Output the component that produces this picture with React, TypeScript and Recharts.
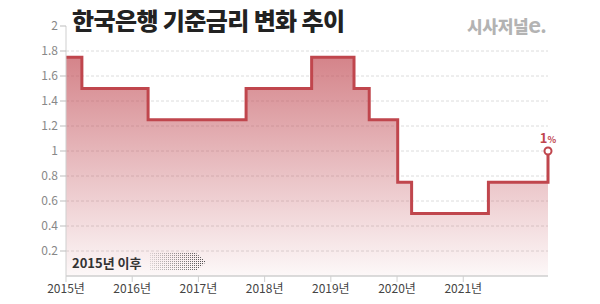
import React from 'react';
import {
  ComposedChart,
  Area,
  XAxis,
  YAxis,
  CartesianGrid,
} from 'recharts';

const yearsSince2015 = [0, 0.24, 1.24, 2.72, 3.71, 4.35, 4.58, 5.01, 5.22, 6.38, 7.28];
const baseRate = [1.75, 1.5, 1.25, 1.5, 1.75, 1.5, 1.25, 0.75, 0.5, 0.75, 1.0];

const yearTicks = [0, 1, 2, 3, 4, 5, 6];
const yearLabels = ['2015년', '2016년', '2017년', '2018년', '2019년', '2020년', '2021년'];
const rateTicks = [0.2, 0.4, 0.6, 0.8, 1, 1.2, 1.4, 1.6, 1.8, 2];
const gridValues = [0.2, 0.4, 0.6, 0.8, 1, 1.2, 1.4, 1.6, 1.8];

const data = yearsSince2015.map((x, i) => ({ x, rate: baseRate[i] }));

const RED = '#c0464d';
const FONT = '"Noto Sans CJK KR", "Noto Sans", sans-serif';

function EndDot(props: Record<string, unknown>) {
  const { cx, cy, index } = props as { cx: number; cy: number; index: number };
  if (index !== data.length - 1) return <g key={index} />;
  return (
    <g key={index}>
      <circle cx={cx} cy={cy} r={3.5} fill="white" stroke={RED} strokeWidth={2} />
      <text x={cx} y={cy - 8} textAnchor="middle" fill={RED} fontFamily={FONT} fontWeight={700}>
        <tspan fontSize={13}>1</tspan>
        <tspan fontSize={9}>%</tspan>
      </text>
    </g>
  );
}

function SinceArrow() {
  return (
    <svg width={60} height={22} style={{ position: 'absolute', left: 148, top: 251 }}>
      <defs>
        <pattern id="dots" width={2} height={2} patternUnits="userSpaceOnUse">
          <rect width={1} height={1} fill="#444" />
        </pattern>
        <linearGradient id="fadeIn" x1="0" y1="0" x2="1" y2="0">
          <stop offset="0%" stopColor="white" stopOpacity={0.15} />
          <stop offset="100%" stopColor="white" stopOpacity={1} />
        </linearGradient>
        <mask id="arrowMask">
          <rect width={60} height={22} fill="url(#fadeIn)" />
        </mask>
      </defs>
      <polygon
        points="2,2 48,2 58,11 48,20 2,20"
        fill="url(#dots)"
        mask="url(#arrowMask)"
      />
    </svg>
  );
}

export default function App() {
  return (
    <div style={{ position: 'relative', width: 600, height: 304, background: '#fff', fontFamily: FONT }}>
      <style>{`body{margin:0}`}</style>
      <ComposedChart
        width={600}
        height={304}
        data={data}
        margin={{ top: 26, right: 52, bottom: 0, left: 0 }}
      >
        <defs>
          <linearGradient id="rateFill" x1="0" y1="0" x2="0" y2="1">
            <stop offset="0%" stopColor="#c24f58" stopOpacity={0.7} />
            <stop offset="100%" stopColor="#c24f58" stopOpacity={0.04} />
          </linearGradient>
        </defs>
        <CartesianGrid
          vertical={false}
          horizontalValues={gridValues}
          stroke="#dcdcdc"
          strokeDasharray="3 2"
        />
        <XAxis
          type="number"
          dataKey="x"
          domain={[0, 7.28]}
          ticks={yearTicks}
          tickFormatter={(t: number) => yearLabels[t] ?? ''}
          tick={{ fontSize: 12, fill: '#444', fontFamily: FONT }}
          axisLine={{ stroke: '#cfcfcf', strokeWidth: 1.5 }}
          tickLine={{ stroke: '#cfcfcf' }}
          tickSize={6}
          height={28}
        />
        <YAxis
          type="number"
          domain={[0, 2]}
          ticks={rateTicks}
          tickFormatter={(v: number) => String(v)}
          tick={{ fontSize: 12, fill: '#888', fontFamily: FONT }}
          axisLine={{ stroke: '#cfcfcf' }}
          tickLine={{ stroke: '#bdbdbd' }}
          tickSize={6}
          width={66}
        />
        <Area
          type="stepAfter"
          dataKey="rate"
          stroke={RED}
          strokeWidth={3}
          fill="url(#rateFill)"
          fillOpacity={1}
          dot={EndDot}
          activeDot={false}
          isAnimationActive={false}
        />
      </ComposedChart>

      <div
        style={{
          position: 'absolute',
          left: 72,
          top: 2,
          fontSize: 24,
          fontWeight: 900,
          color: '#222',
          letterSpacing: -0.6,
          whiteSpace: 'nowrap',
        }}
      >
        한국은행 기준금리 변화 추이
      </div>
      <div
        style={{
          position: 'absolute',
          left: 467,
          top: 10,
          fontSize: 17,
          fontWeight: 900,
          color: '#b3b3b3',
          letterSpacing: -0.3,
          whiteSpace: 'nowrap',
        }}
      >
        시사저널<span style={{ fontSize: 23, fontFamily: 'Lato, sans-serif', fontWeight: 900 }}>e</span>.
      </div>
      <div
        style={{
          position: 'absolute',
          left: 72,
          top: 253,
          fontSize: 13,
          fontWeight: 700,
          color: '#333',
          whiteSpace: 'nowrap',
        }}
      >
        2015년 이후
      </div>
      <SinceArrow />
    </div>
  );
}
